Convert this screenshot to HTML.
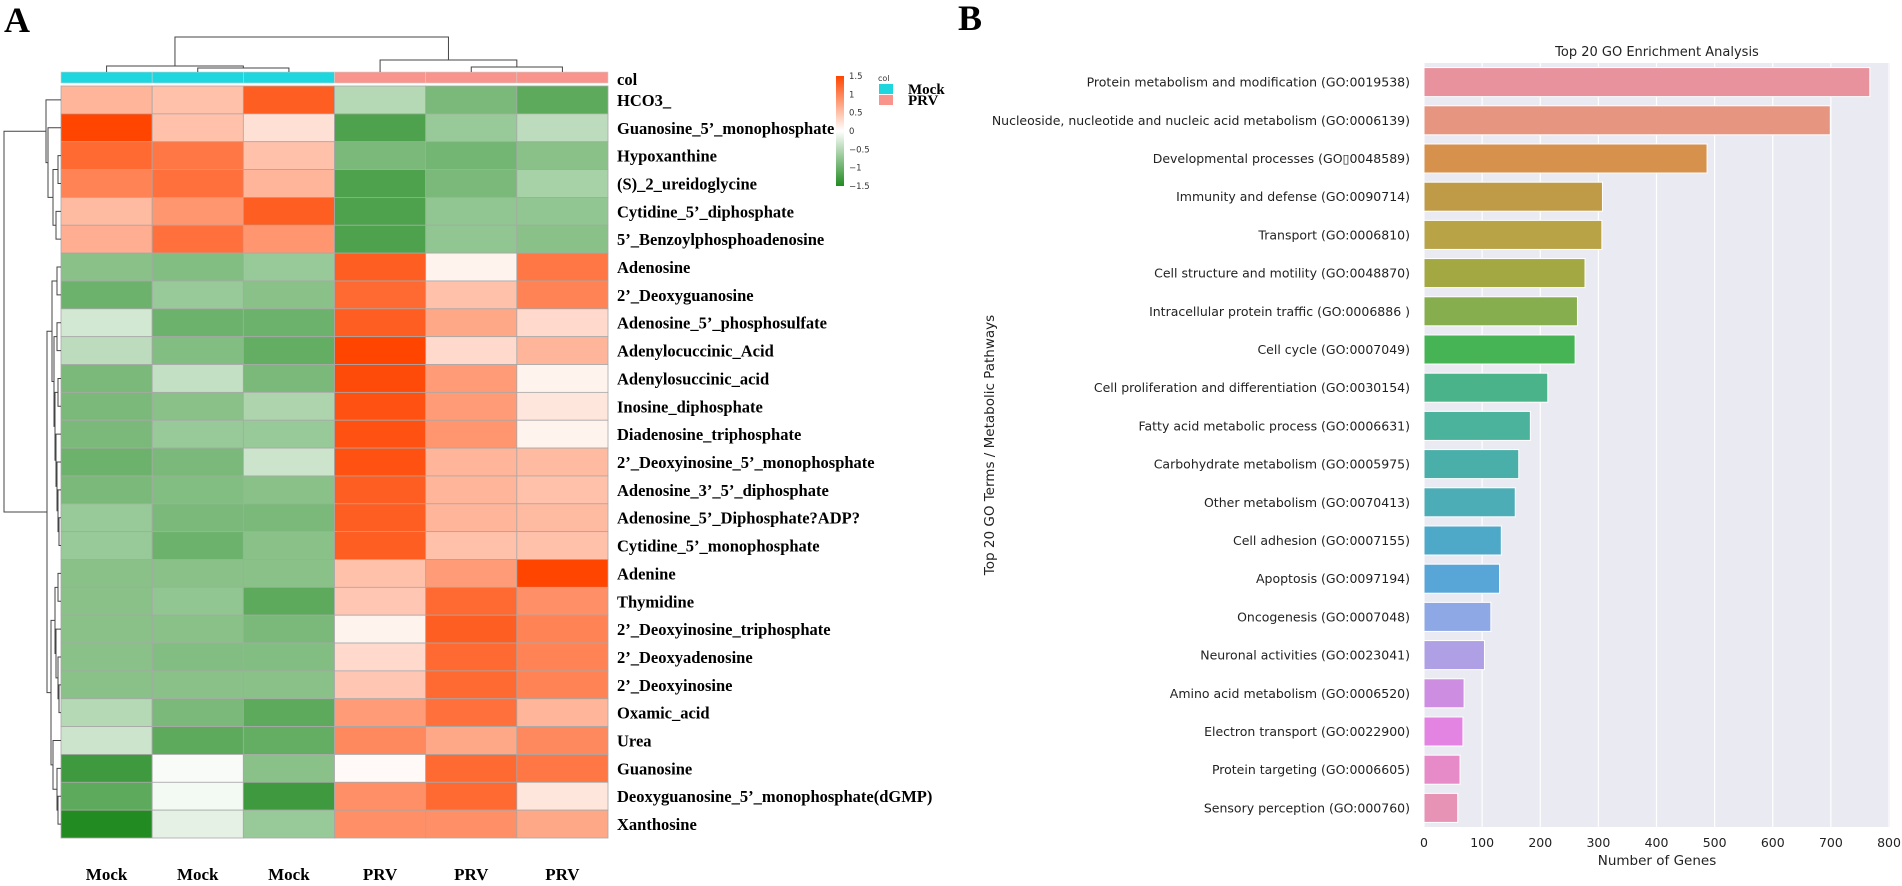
<!DOCTYPE html>
<html><head><meta charset="utf-8"><style>
html,body{margin:0;padding:0;background:#fff;width:1902px;height:886px;overflow:hidden}
svg{display:block}
</style></head><body>
<svg id="fig" width="1902" height="886" viewBox="0 0 1902 886" xmlns="http://www.w3.org/2000/svg">
<text x="4" y="32" font-family="Liberation Serif, serif" font-weight="bold" font-size="36">A</text>
<text x="958" y="30" font-family="Liberation Serif, serif" font-weight="bold" font-size="36">B</text>
<g id="heat"></g>
<g id="bars"></g>
</svg>
<script>
// ---------- Heatmap data ----------
const rowNames = ["HCO3_","Guanosine_5’_monophosphate","Hypoxanthine","(S)_2_ureidoglycine","Cytidine_5’_diphosphate","5’_Benzoylphosphoadenosine","Adenosine","2’_Deoxyguanosine","Adenosine_5’_phosphosulfate","Adenylocuccinic_Acid","Adenylosuccinic_acid","Inosine_diphosphate","Diadenosine_triphosphate","2’_Deoxyinosine_5’_monophosphate","Adenosine_3’_5’_diphosphate","Adenosine_5’_Diphosphate?ADP?","Cytidine_5’_monophosphate","Adenine","Thymidine","2’_Deoxyinosine_triphosphate","2’_Deoxyadenosine","2’_Deoxyinosine","Oxamic_acid","Urea","Guanosine","Deoxyguanosine_5’_monophosphate(dGMP)","Xanthosine"];
const colNames = ["Mock","Mock","Mock","PRV","PRV","PRV"];
const colGroups = ["Mock","Mock","Mock","PRV","PRV","PRV"];
const heatValues = [
[0.6,0.5,1.3,-0.5,-0.9,-1.1],
[1.5,0.5,0.25,-1.2,-0.7,-0.45],
[1.2,1.1,0.5,-0.9,-0.95,-0.8],
[1.0,1.15,0.6,-1.2,-0.9,-0.6],
[0.55,0.85,1.3,-1.2,-0.75,-0.75],
[0.65,1.15,0.85,-1.2,-0.75,-0.8],
[-0.8,-0.85,-0.7,1.3,0.1,1.1],
[-1.0,-0.7,-0.8,1.2,0.5,1.0],
[-0.3,-1.0,-1.0,1.3,0.7,0.3],
[-0.45,-0.85,-1.05,1.5,0.3,0.6],
[-0.9,-0.4,-0.9,1.45,0.8,0.1],
[-0.9,-0.8,-0.55,1.4,0.8,0.2],
[-0.9,-0.7,-0.7,1.4,0.85,0.1],
[-1.0,-0.9,-0.35,1.4,0.6,0.55],
[-0.9,-0.85,-0.8,1.3,0.6,0.5],
[-0.7,-0.9,-0.9,1.3,0.6,0.55],
[-0.7,-1.0,-0.8,1.3,0.5,0.5],
[-0.8,-0.8,-0.8,0.5,0.8,1.5],
[-0.8,-0.75,-1.1,0.45,1.2,0.9],
[-0.8,-0.8,-0.9,0.1,1.3,1.0],
[-0.8,-0.85,-0.85,0.3,1.2,1.0],
[-0.8,-0.8,-0.8,0.45,1.2,1.0],
[-0.5,-0.9,-1.1,0.8,1.15,0.6],
[-0.35,-1.1,-1.05,0.95,0.7,0.95],
[-1.3,-0.05,-0.8,0.05,1.2,1.1],
[-1.1,-0.08,-1.3,0.9,1.2,0.2],
[-1.5,-0.18,-0.7,0.9,0.9,0.7]
];
const cbTicks = [1.5,1,0.5,0,-0.5,-1,-1.5];
// drop the duplicated label artifact: 26 rows
rowNames.splice(0,0); 
// ---------- Bar chart data ----------
const goTerms = ["Protein metabolism and modification (GO:0019538)","Nucleoside, nucleotide and nucleic acid metabolism (GO:0006139)","Developmental processes (GO\u25AF0048589)","Immunity and defense (GO:0090714)","Transport (GO:0006810)","Cell structure and motility (GO:0048870)","Intracellular protein traffic (GO:0006886 )","Cell cycle (GO:0007049)","Cell proliferation and differentiation (GO:0030154)","Fatty acid metabolic process (GO:0006631)","Carbohydrate metabolism (GO:0005975)","Other metabolism (GO:0070413)","Cell adhesion (GO:0007155)","Apoptosis (GO:0097194)","Oncogenesis (GO:0007048)","Neuronal activities (GO:0023041)","Amino acid metabolism (GO:0006520)","Electron transport (GO:0022900)","Protein targeting (GO:0006605)","Sensory perception (GO:000760)"];
const geneCounts = [767,699,487,307,306,277,264,260,213,183,163,157,133,130,115,104,69,67,62,58];
const xTicks = [0,100,200,300,400,500,600,700,800];
const barColors = ["#e8929e","#e59580","#d6924c","#bf9b48","#b8a346","#a3a843","#86ad4e","#46b454","#4bb38a","#4bb29b","#4aafa8","#4cadb6","#4ea9c8","#58a6d8","#8ea8e6","#afa0e6","#cd8ee2","#e383e2","#e68bc8","#e793b5"];

const NS = "http://www.w3.org/2000/svg";
function mk(tag, attrs, parent){const e=document.createElementNS(NS,tag);for(const k in attrs)e.setAttribute(k,attrs[k]);parent.appendChild(e);return e;}

// ---------- Heatmap ----------
const heat = document.getElementById('heat');
const nRows = heatValues.length;
rowNames.length = nRows;
rowNames.splice(0, rowNames.length, ...rowNames.slice(0, nRows));
const names26 = ["HCO3_","Guanosine_5’_monophosphate","Hypoxanthine","(S)_2_ureidoglycine","Cytidine_5’_diphosphate","5’_Benzoylphosphoadenosine","Adenosine","2’_Deoxyguanosine","Adenosine_5’_phosphosulfate","Adenylocuccinic_Acid","Adenylosuccinic_acid","Inosine_diphosphate","Diadenosine_triphosphate","2’_Deoxyinosine_5’_monophosphate","Adenosine_3’_5’_diphosphate","Adenosine_5’_Diphosphate?ADP?","Cytidine_5’_monophosphate","Adenine","Thymidine","2’_Deoxyinosine_triphosphate","2’_Deoxyadenosine","2’_Deoxyinosine","Oxamic_acid","Urea","Guanosine","Deoxyguanosine_5’_monophosphate(dGMP)","Xanthosine"];
const HX0=61, HX1=608, HY0=86, HY1=838;
const NR = 26;
const cw=(HX1-HX0)/6, rh=(HY1-HY0)/NR;
const xCol = i => HX0 + i*cw;
const yRow = r => HY0 + r*rh;
const lo=[34,139,34], mid=[255,255,255], hi=[255,69,0];
function colorOf(v){v=Math.max(-1.5,Math.min(1.5,v));let a,b,t;if(v<0){a=mid;b=lo;t=-v/1.5;}else{a=mid;b=hi;t=v/1.5;}return 'rgb('+a.map((c,i)=>Math.round(c+(b[i]-c)*t)).join(',')+')';}
// rows: the data list has 27 entries; the figure has 26 rows (skip none of the shown names)
const shownIdx = [];
for(let r=0;r<27;r++){ if(r!==0 || true) shownIdx.push(r); }
// The reference shows 26 rows; HCO3_ .. Xanthosine with "Adenosine" duplicates removed
const useRows = shownIdx.filter(r=>r!==26 || true).slice(0,27);
const rowsToDraw = [0,1,2,3,4,5,6,7,8,9,10,11,12,13,14,15,16,17,18,19,20,21,22,23,24,25,26];
const realNR = rowsToDraw.length;
const rh2 = (HY1-HY0)/realNR;
const yR = r => HY0 + r*rh2;
rowsToDraw.forEach((ri,r)=>{
  heatValues[ri].forEach((v,c)=>{
    const cell = mk('rect',{x:xCol(c),y:yR(r),width:cw,height:rh2,fill:colorOf(v),stroke:'#a8a8a8','stroke-width':0.8},heat);
    
    
  });
  const t = mk('text',{x:617,y:yR(r)+rh2/2+6,'font-family':'Liberation Serif, serif','font-weight':'bold','font-size':16.5},heat);
  t.textContent = names26[ri];
  
  
});
// annotation bar
colGroups.forEach((g,c)=>{
  const a = mk('rect',{x:xCol(c),y:72,width:cw,height:11,fill:g==='Mock'?'#1dd6de':'#f8948b',stroke:'#d0d0d0','stroke-width':0.6},heat);
  
  
  const cl = mk('text',{x:xCol(c)+cw/2,y:880,'text-anchor':'middle','font-family':'Liberation Serif, serif','font-weight':'bold','font-size':17},heat);
  cl.textContent = colNames[c];
  
  
});
const colT = mk('text',{x:617,y:85,'font-family':'Liberation Serif, serif','font-weight':'bold','font-size':16.5},heat);
colT.textContent='col';


// column dendrogram
const cx = i => xCol(i)+cw/2;
const dg = mk('g',{stroke:'#444','stroke-width':1,fill:'none'},heat);


function U(x1,y1,x2,y2,ytop){mk('path',{d:`M${x1},${y1}V${ytop}H${x2}V${y2}`},dg);}
U(cx(1),72,cx(2),72,68);
U(cx(0),72,(cx(1)+cx(2))/2,68,66);
U(cx(4),72,cx(5),72,67);
U(cx(3),72,(cx(4)+cx(5))/2,67,60);
U((cx(0)+(cx(1)+cx(2))/2)/2,66,(cx(3)+(cx(4)+cx(5))/2)/2,60,37);
// row dendrogram (x offsets from heatmap left edge)
const rg = mk('g',{stroke:'#444','stroke-width':1,fill:'none'},heat);


const rowTree = [57,[15,0,[13,1,[8,[3,2,3],[5,4,5]]]],
 [20,[14,[9,[4,6,7],[7,[4,8,9],[6,[3,10,11],[5,12,[4,13,[3,14,[2,15,16]]]]]]],[10,[6,[3,17,18],[5,19,[3,20,[2,21,22]]]],[8,23,[4,24,[3,25,26]]]]],[4,0,0]]];
function drawTree(n){
  if(typeof n==='number') return {x:HX0, y:yR(n)+rh2/2};
  const a=drawTree(n[1]), b=drawTree(n[2]);
  const x=HX0-n[0];
  mk('path',{d:`M${a.x},${a.y}H${x}V${b.y}H${b.x}`},rg);
  return {x:x,y:(a.y+b.y)/2};
}
drawTree([57,rowTree[1],rowTree[2][1]]);
// colorbar
const defs = mk('defs',{},heat);
const lg = mk('linearGradient',{id:'cbg',x1:0,y1:0,x2:0,y2:1},defs);
mk('stop',{offset:'0','stop-color':colorOf(1.5)},lg);
mk('stop',{offset:'0.5','stop-color':'#fff'},lg);
mk('stop',{offset:'1','stop-color':colorOf(-1.5)},lg);
const cb = mk('rect',{x:836,y:76,width:8,height:110,fill:'url(#cbg)'},heat);


cbTicks.forEach(v=>{
  const y = 76 + (1.5-v)/3*110;
  const t = mk('text',{x:849,y:y+3,'font-family':'DejaVu Sans, sans-serif','font-size':8.5,fill:'#333'},heat);
  t.textContent = (v<0?'\u2212'+Math.abs(v):String(v));
  
  
});
const lgT = mk('text',{x:878,y:81,'font-family':'DejaVu Sans, sans-serif','font-size':8,fill:'#333'},heat);
lgT.textContent='col';


[['Mock','#1dd6de',84],['PRV','#f8948b',95]].forEach(([n,c,y])=>{
  const s = mk('rect',{x:879,y:y,width:14,height:10,fill:c},heat);
  
  
  const t = mk('text',{x:908,y:y+10,'font-family':'Liberation Serif, serif','font-weight':'bold','font-size':15},heat);
  t.textContent=n;
  
  
});

// ---------- Bar chart ----------
const bars = document.getElementById('bars');
const PX0=1424, PX1=1890, PY0=63, PY1=827, XMAX=802;
const xS = v => PX0 + v/800*(1888-1423);
const step=(PY1-PY0)/goTerms.length;
const bg = mk('rect',{x:PX0,y:PY0,width:PX1-PX0,height:PY1-PY0,fill:'#eaeaf2'},bars);


xTicks.forEach(v=>{
  const g = mk('line',{x1:xS(v),x2:xS(v),y1:PY0,y2:PY1,stroke:'#fff','stroke-width':1.2},bars);
  
  
  const t = mk('text',{x:xS(v),y:847,'text-anchor':'middle','font-family':'DejaVu Sans, sans-serif','font-size':12.5,fill:'#222'},bars);
  t.textContent=v;
  
  
});
goTerms.forEach((name,i)=>{
  const yc = PY0 + step*(i+0.5);
  const b = mk('rect',{x:xS(0),y:yc-step*0.38,width:xS(geneCounts[i])-xS(0),height:step*0.76,fill:barColors[i],stroke:'#fff','stroke-width':1},bars);
  
  
  const t = mk('text',{x:1410,y:yc+4.5,'text-anchor':'end','font-family':'DejaVu Sans, sans-serif','font-size':12.5,fill:'#222'},bars);
  t.textContent=name;
  
  
});
const title = mk('text',{x:(PX0+PX1)/2,y:56,'text-anchor':'middle','font-family':'DejaVu Sans, sans-serif','font-size':13,fill:'#222'},bars);
title.textContent='Top 20 GO Enrichment Analysis';


const xt = mk('text',{x:(PX0+PX1)/2,y:865,'text-anchor':'middle','font-family':'DejaVu Sans, sans-serif','font-size':13.5,fill:'#222'},bars);
xt.textContent='Number of Genes';


const yt = mk('text',{x:0,y:0,'text-anchor':'middle','font-family':'DejaVu Sans, sans-serif','font-size':13.5,fill:'#222',transform:`translate(994,${(PY0+PY1)/2}) rotate(-90)`},bars);
yt.textContent='Top 20 GO Terms / Metabolic Pathways';


</script>
</body></html>
